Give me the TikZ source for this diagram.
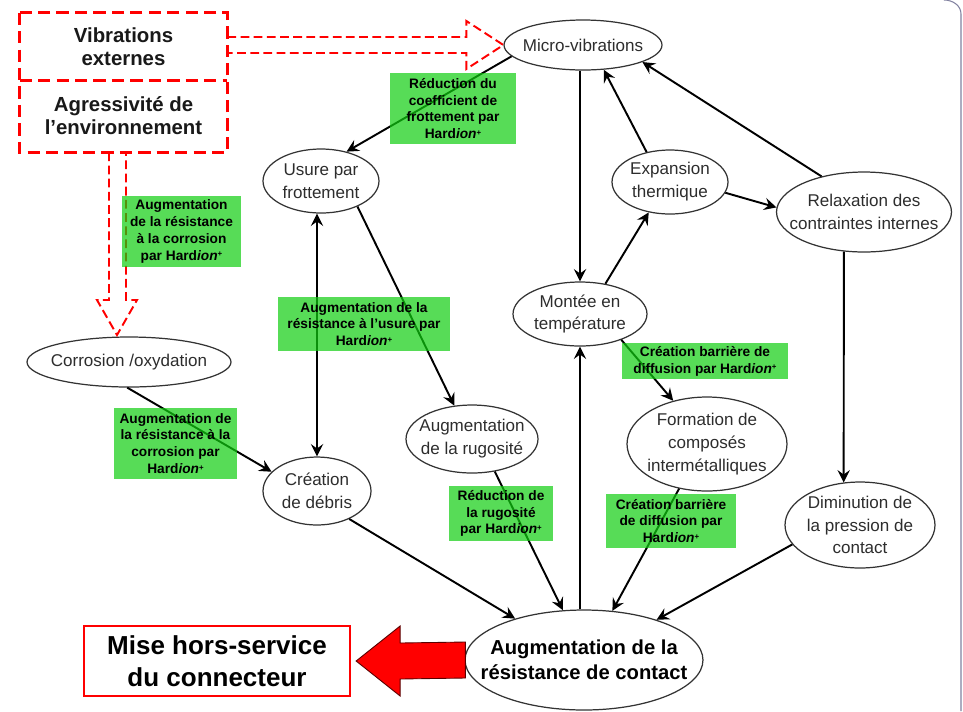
\documentclass[tikz,border=0pt]{standalone}
\usepackage{fontspec}
\setmainfont{Liberation Sans}
\usetikzlibrary{shapes.geometric,arrows.meta,calc}

\definecolor{vertHard}{RGB}{16,206,16}
\definecolor{gristexte}{RGB}{45,45,45}
\definecolor{cadre}{RGB}{130,130,160}
\newcommand{\hardion}{Hard\textit{ion}\raisebox{0.5ex}{\fontsize{4.5}{5}\selectfont +}}

\begin{document}
\begin{tikzpicture}[x=0.02cm, y=-0.02cm,
    >={Stealth[length=7pt,width=7pt,inset=2.5pt]},
    bulle/.style={ellipse, draw=black!80, line width=0.7pt, inner sep=0pt},
    txt/.style={align=center, text=gristexte, font=\fontsize{9.7}{13}\selectfont},
    vert/.style={fill=vertHard, fill opacity=0.7, text opacity=1, inner sep=0pt,
                 align=center, font=\fontsize{7.8}{9.6}\selectfont\bfseries},
    fl/.style={->, line width=1.1pt},
    tirets/.style={draw=red, line width=1.7pt, dash pattern=on 7pt off 3.5pt},
    creux/.style={draw=red, line width=1.1pt, dash pattern=on 5pt off 2.5pt},
    cause/.style={minimum width=4.14cm, align=center, text=black!90,
                  font=\fontsize{11.6}{13}\selectfont\bfseries}]

    % Page
    \fill[white] (0,0) rectangle (963,711);
    \useasboundingbox (0,0) rectangle (963,711);
    \draw[cadre, line width=0.6pt] (944,0) to[out=0,in=90] (961,14) -- (961,711);

    % Causes externes
    \node[cause, minimum height=1.34cm] (vib) at (123.5,46.5) {Vibrations\\externes};
    \node[cause, minimum height=1.44cm] (agr) at (123.5,116) {Agressivité de\\l’environnement};
    \draw[tirets] (vib.north west) rectangle (agr.south east);
    \draw[tirets] (vib.south west) -- (vib.south east);

    % Mecanismes
    \node[bulle, minimum width=3.16cm, minimum height=1cm,
          label={[txt]center:Micro-vibrations}] (micro) at (583,45) {};
    \node[bulle, minimum width=2.32cm, minimum height=1.28cm,
          label={[txt]center:{Usure par\\frottement}}] (usure) at (321,181) {};
    \node[bulle, minimum width=2.32cm, minimum height=1.28cm,
          label={[txt]center:{Expansion\\thermique}}] (expan) at (670,182) {};
    \node[bulle, minimum width=3.5cm, minimum height=1.6cm,
          label={[txt]center:{Relaxation des\\contraintes internes}}] (relax) at (864,212) {};
    \node[bulle, minimum width=2.68cm, minimum height=1.28cm,
          label={[txt]center:{Montée en\\température}}] (montee) at (580,314) {};
    \node[bulle, minimum width=4.08cm, minimum height=1cm,
          label={[txt]center:{Corrosion /oxydation}}] (corr) at (129,362) {};
    \node[bulle, minimum width=2.16cm, minimum height=1.36cm,
          label={[txt]center:{Création\\de débris}}] (debris) at (317,491) {};
    \node[bulle, minimum width=2.64cm, minimum height=1.36cm,
          label={[txt]center:{Augmentation\\de la rugosité}}] (rugo) at (472,439) {};
    \node[bulle, minimum width=3.2cm, minimum height=1.88cm,
          label={[txt]center:{Formation de\\composés\\intermétalliques}}] (form) at (707,444) {};
    \node[bulle, minimum width=3cm, minimum height=1.72cm,
          label={[txt]center:{Diminution de\\la pression de\\contact}}] (dimin) at (860,525) {};
    \node[bulle, minimum width=4.76cm, minimum height=2cm,
          label={[txt, text=black, font=\fontsize{11.5}{14}\selectfont\bfseries]center:{Augmentation de la\\résistance de contact}}] (resist) at (584,660) {};

    % Defaillance
    \node[draw=red, line width=1.3pt, minimum width=5.32cm, minimum height=1.4cm, align=center,
          font=\fontsize{14.8}{18}\selectfont\bfseries] (mise) at (217,661) {Mise hors-service\\du connecteur};
    \draw[fill=red, draw=red!35!black, line width=0.5pt]
        ($(mise.east)+(5,0)$) -- ($(mise.east)+(49,-35)$) -- ($(mise.east)+(49,-18)$)
        -- ($(resist.west)+(1,-18)$) -- ($(resist.west)+(1,18)$)
        -- ($(mise.east)+(49,18)$) -- ($(mise.east)+(49,35)$) -- cycle;

    % Fleches creuses
    \draw[creux] ($(vib.east |- micro.west)+(0,-8)$) -- ($(micro.west)+(-37,-8)$)
        -- ($(micro.west)+(-37,-24)$) -- (micro.west) -- ($(micro.west)+(-37,24)$)
        -- ($(micro.west)+(-37,8)$) -- ($(vib.east |- micro.west)+(0,8)$);
    \coordinate (pointe) at (117,335);
    \draw[creux] ($(pointe |- agr.south)+(-8,0)$) -- ($(pointe)+(-8,-35)$)
        -- ($(pointe)+(-20,-35)$) -- (pointe) -- ($(pointe)+(20,-35)$)
        -- ($(pointe)+(9,-35)$) -- ($(pointe |- agr.south)+(9,0)$);

    % Liens
    \draw[fl] (micro.189) -- (usure.49);
    \draw[fl] (montee.north |- micro.south) -- (montee.north);
    \draw[fl] (expan.128) -- (micro.310);
    \draw[fl] (relax.140) -- (micro.344);
    \draw[fl] (expan.349) -- (relax.177);
    \draw[fl] (montee.50) -- (expan.235);
    \draw[fl] (montee.328) -- (form.128);
    \draw[fl] (relax.243) -- (dimin.111);
    \draw[fl, <->] (usure.south -| debris.north) -- (debris.north);
    \draw[fl] (usure.325) -- (rugo.118);
    \draw[fl] (corr.266) -- (debris.157);
    \draw[fl] (debris.319) -- (resist.149);
    \draw[fl] (rugo.305) -- (resist.113);
    \draw[fl] (form.238) -- (resist.60);
    \draw[fl] (dimin.196) -- (resist.29);
    \draw[fl] (montee.south |- resist.north) -- (montee.south);

    % Actions Hardion
    \node[vert, minimum width=2.52cm, minimum height=1.42cm] (b1) at (453,108.5)
        {Réduction du\\coefficient de\\frottement par\\\hardion};
    \node[vert, minimum width=2.38cm, minimum height=1.42cm] (b2) at (181.5,231.5)
        {Augmentation\\de la résistance\\à la corrosion\\par \hardion};
    \node[vert, minimum width=3.44cm, minimum height=1.08cm] (b3) at (364,324)
        {Augmentation de la\\résistance à l’usure par\\\hardion};
    \node[vert, minimum width=2.46cm, minimum height=1.42cm] (b4) at (175.5,443.5)
        {Augmentation de\\la résistance à la\\corrosion par\\\hardion};
    \node[vert, minimum width=2.08cm, minimum height=1.1cm] (b5) at (501,513.5)
        {Réduction de\\la rugosité\\par \hardion};
    \node[vert, minimum width=3.32cm, minimum height=0.72cm] (b6) at (705,361)
        {Création barrière de\\diffusion par \hardion};
    \node[vert, minimum width=2.6cm, minimum height=1.08cm] (b7) at (671,521)
        {Création barrière\\de diffusion par\\\hardion};
\end{tikzpicture}
\end{document}
